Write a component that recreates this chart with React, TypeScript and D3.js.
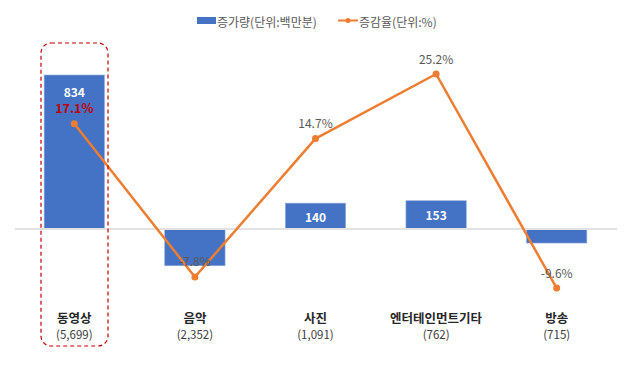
import React from "react";
import * as d3 from "d3";

const categories = ["동영상", "음악", "사진", "엔터테인먼트기타", "방송"];
const totals = ["(5,699)", "(2,352)", "(1,091)", "(762)", "(715)"];
const increase = [834, -199, 140, 153, -76];
const rate = [17.1, -7.8, 14.7, 25.2, -9.6];
const legendLabels = ["증가량(단위:백만분)", "증감율(단위:%)"];

const W = 630;
const H = 367;
const FONT = "'Noto Sans CJK KR', 'Noto Sans', sans-serif";
const BLUE = "#4472C4";
const ORANGE = "#ED7D31";

export default function App() {
  const x = d3.scaleBand<string>().domain(categories).range([14, 617]).paddingInner(0.5).paddingOuter(0.25);
  const yBar = d3.scaleLinear().domain([0, 834]).range([229, 75]);
  const yRate = d3.scaleLinear().domain([0, 25.2]).range([229, 74]);
  const cx = (c: string) => (x(c) as number) + x.bandwidth() / 2;
  const line = d3.line<number>().x((_, i) => cx(categories[i])).y((d) => yRate(d));
  const zero = yBar(0);

  return (
    <div style={{ margin: -8 }}>
      <svg width={W} height={H} style={{ display: "block", fontFamily: FONT }}>
        <rect x={0.5} y={0.5} width={W - 2} height={H - 2} fill="#fff" stroke="#d9d9d9" strokeWidth={1.5} />
        {/* legend */}
        <g>
          <rect x={197} y={17} width={19} height={7} fill={BLUE} />
          <text x={217} y={21} dominantBaseline="central" fontSize={12} fill="#595959">{legendLabels[0]}</text>
          <line x1={338} x2={358} y1={20.5} y2={20.5} stroke={ORANGE} strokeWidth={2} />
          <circle cx={348} cy={20.5} r={2.5} fill={ORANGE} />
          <text x={359} y={21} dominantBaseline="central" fontSize={12} fill="#595959">{legendLabels[1]}</text>
        </g>
        {/* bars */}
        {categories.map((c, i) => {
          const v = increase[i];
          const top = Math.min(yBar(v), zero);
          const h = Math.abs(yBar(v) - zero);
          return <rect key={c} x={x(c)} y={top} width={x.bandwidth()} height={h} fill={BLUE} stroke="#8faadc" strokeWidth={0.6} />;
        })}
        {/* zero line */}
        <line x1={15} x2={617} y1={zero} y2={zero} stroke="#e2e2e2" strokeWidth={2} />
        {/* bar labels */}
        {categories.map((c, i) => {
          const v = increase[i];
          if (v <= 0) return null;
          const top = yBar(v);
          const cy = Math.min(top + 16, (top + zero) / 2);
          return (
            <text key={c} x={cx(c)} y={cy} textAnchor="middle" dominantBaseline="central" fontSize={12} fontWeight="bold" fill="#fff">
              {v}
            </text>
          );
        })}
        {/* line */}
        <path d={line(rate) || ""} fill="none" stroke={ORANGE} strokeWidth={2.5} strokeLinejoin="round" />
        {rate.map((r, i) => (
          <circle key={i} cx={cx(categories[i])} cy={yRate(r)} r={3.5} fill={ORANGE} />
        ))}
        {rate.map((r, i) => {
          const highlight = i === 0;
          return (
            <text
              key={i}
              x={cx(categories[i])}
              y={yRate(r) - 16}
              textAnchor="middle"
              dominantBaseline="central"
              fontSize={highlight ? 12.5 : 12}
              fontWeight={highlight ? "bold" : "normal"}
              fill={highlight ? "#C00000" : "#595959"}
            >
              {r.toFixed(1)}%
            </text>
          );
        })}
        {/* category labels */}
        {categories.map((c, i) => (
          <g key={c}>
            <text x={cx(c)} y={317} textAnchor="middle" dominantBaseline="central" fontSize={12.5} fontWeight="bold" fill="#262626">{c}</text>
            <text x={cx(c)} y={334} textAnchor="middle" dominantBaseline="central" fontSize={11.5} fill="#404040">{totals[i]}</text>
          </g>
        ))}
        {/* highlight box */}
        <rect x={41} y={43} width={67} height={303} rx={10} ry={10} fill="none" stroke="#C00000" strokeWidth={1.2} strokeDasharray="4,3" />
      </svg>
    </div>
  );
}
